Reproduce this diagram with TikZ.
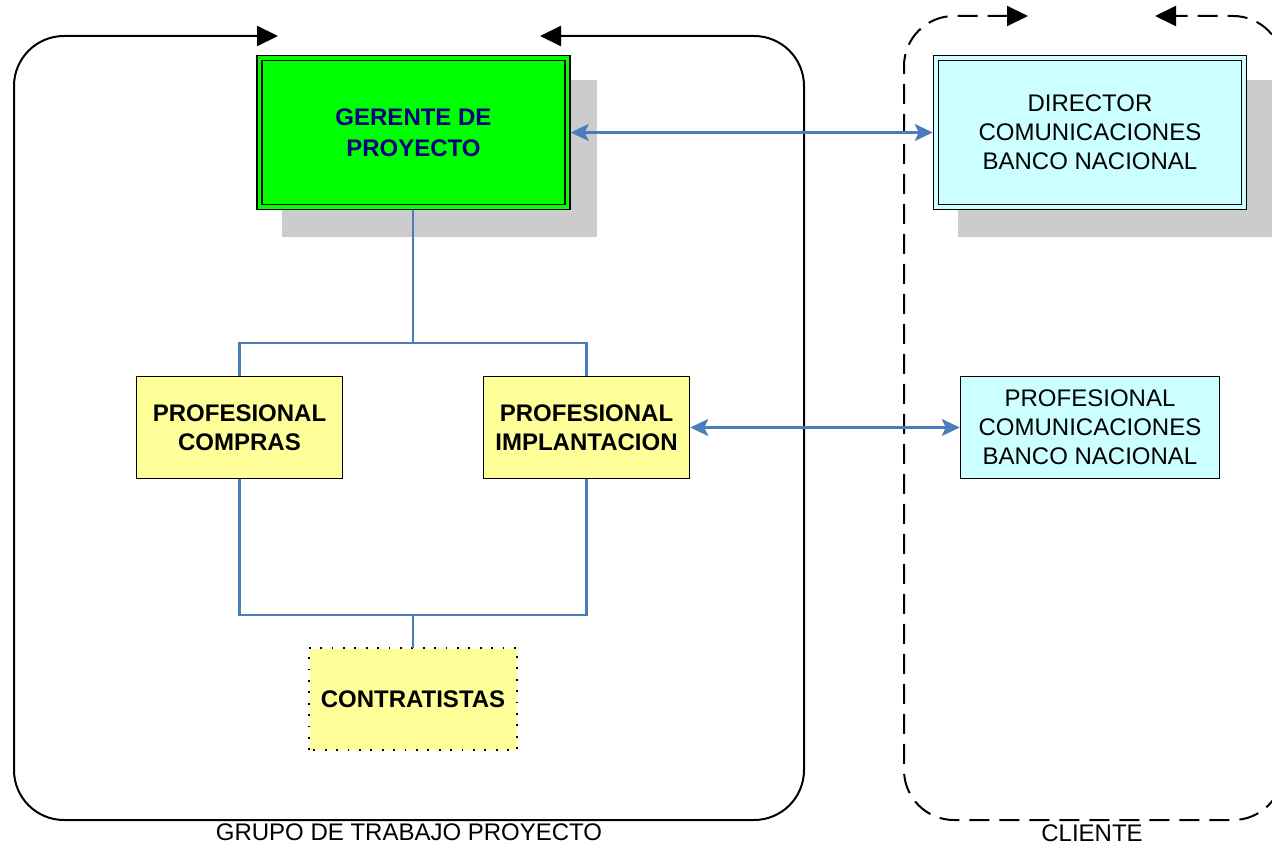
\documentclass[tikz,border=0pt]{standalone}
\usepackage{fontspec}
\setmainfont{Liberation Sans}
\usetikzlibrary{arrows.meta,positioning}
\definecolor{boxgreen}{HTML}{00FF00}
\definecolor{boxcyan}{HTML}{CCFFFF}
\definecolor{boxyellow}{HTML}{FFFF99}
\definecolor{shadowgray}{HTML}{CCCCCC}
\definecolor{linkblue}{HTML}{4A7EBB}
\definecolor{titlenavy}{HTML}{000080}
\tikzset{
  frametip/.tip={Triangle[length=21pt,width=20pt]},
  linktip/.tip={Stealth[length=18pt,width=17pt,inset=4pt]},
  txt/.style={font=\fontsize{24}{28.8}\selectfont, align=center},
  doublebox/.style={txt, draw=black, line width=1.5pt, double distance=3.5pt,
    inner sep=0pt, outer sep=3.25pt, minimum width=308pt, minimum height=149pt},
  rolebox/.style={txt, draw=black, line width=1.5pt, inner sep=0pt,
    minimum width=206pt, minimum height=102pt},
  conn/.style={draw=linkblue, line width=2.2pt},
  twoway/.style={conn, linktip-linktip},
  grouplabel/.style={font=\fontsize{24}{28.8}\selectfont, anchor=base, inner sep=0pt}
}
\begin{document}
\begin{tikzpicture}[x=1pt,y=-1pt]
\useasboundingbox (0,0) rectangle (1272,845);
\clip (0,0) rectangle (1272,845);

% group frames with arrowed openings at the top
\draw[black, line width=2pt, rounded corners=50pt, frametip-frametip]
  (278,36) -- (14,36) -- (14,820) -- (804,820) -- (804,36) -- (540,36);
\draw[black, line width=2pt, dash pattern=on 20pt off 10pt, rounded corners=50pt, frametip-frametip]
  (1028,16) -- (904,16) -- (904,820) -- (1283,820) -- (1283,16) -- (1155,16);

% drop shadows behind the two head boxes
\fill[shadowgray] (282,80) rectangle (597,237);
\fill[shadowgray] (958,80) rectangle (1285,237);

% boxes
\node[doublebox, fill=boxgreen, double=boxgreen, text=titlenavy,
  font=\bfseries\fontsize{24}{31}\selectfont]
  (ger) at (413.5,132.5) {GERENTE DE\\PROYECTO};
\node[doublebox, fill=boxcyan, double=boxcyan] (dir) at (1090,132.5)
  {DIRECTOR\\COMUNICACIONES\\BANCO NACIONAL};
\node[rolebox, fill=boxyellow, font=\bfseries\fontsize{24}{28.8}\selectfont]
  (compras) at (239.5,427.5) {PROFESIONAL\\COMPRAS};
\node[rolebox, fill=boxyellow, font=\bfseries\fontsize{24}{28.8}\selectfont]
  (impl) at (586.5,427.5) {PROFESIONAL\\IMPLANTACION};
\node[rolebox, fill=boxcyan, minimum width=259pt] (procom) at (1090,427.5)
  {PROFESIONAL\\COMUNICACIONES\\BANCO NACIONAL};
\node[rolebox, fill=boxyellow, draw=none, minimum width=207pt, minimum height=101pt,
  font=\bfseries\fontsize{24}{28.8}\selectfont] (contr) at (413,699) {CONTRATISTAS};
\draw[black, line width=2pt, dash pattern=on 1.8pt off 9.6pt]
  (contr.south west) rectangle (contr.north east);

% tree connectors
\coordinate (split) at (413,343);
\coordinate (join) at (413,615);
\draw[conn] (ger.south -| split) -- (split);
\draw[conn] (compras.north) |- (split) -| (impl.north);
\draw[conn] (compras.south) |- (join) -| (impl.south);
\draw[conn] (join) -- (contr.north);

% links to the client side
\draw[twoway] (ger.east) -- (dir.west);
\draw[twoway] (impl.east) -- (procom.west);

% group labels
\node[grouplabel] (lblgroup) at (409,840) {GRUPO DE TRABAJO PROYECTO};
\node[grouplabel] (lblclient) at (1092,841) {CLIENTE};
\end{tikzpicture}
\end{document}
